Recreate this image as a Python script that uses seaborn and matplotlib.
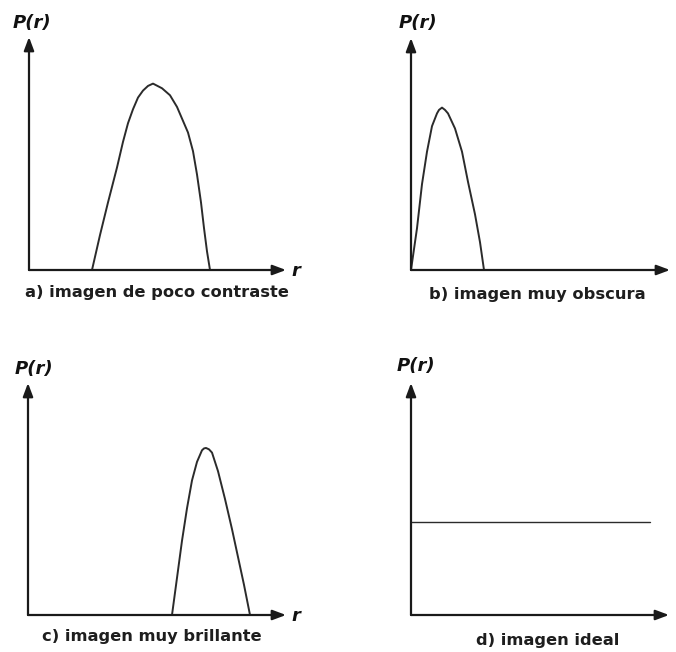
import matplotlib
matplotlib.use('Agg')
import matplotlib.pyplot as plt
import seaborn as sns

"""
Cuatro histogramas tipicos P(r): contraste, oscuro, brillante, ideal.
"""

# niveles de gris r (0-255) y altura relativa P(r)
r_a = [63, 71, 79, 88, 94, 99, 104, 109, 114, 119, 124,
       133, 141, 148, 154, 159, 164, 168, 172, 175, 178, 181]
p_a = [0, 0.15, 0.29, 0.44, 0.55, 0.63, 0.69, 0.74, 0.77, 0.79, 0.80,
       0.78, 0.75, 0.70, 0.64, 0.59, 0.51, 0.41, 0.29, 0.18, 0.08, 0]

r_b = [0, 6, 11, 16, 21, 26, 28, 31, 34, 37, 44, 51, 57, 64, 69, 73]
p_b = [0, 0.18, 0.37, 0.51, 0.62, 0.675, 0.69, 0.70, 0.69, 0.675, 0.61, 0.51, 0.38, 0.24, 0.12, 0]

r_c = [144, 149, 154, 159, 164, 169, 174, 176, 178, 181, 184, 190, 197, 204, 210, 216, 222]
p_c = [0, 0.16, 0.32, 0.46, 0.58, 0.66, 0.71, 0.718, 0.72, 0.714, 0.70, 0.62, 0.50, 0.37, 0.25, 0.13, 0]

r_d = [0, 239]
p_d = [0.40, 0.40]

captions = ['a) imagen de poco contraste', 'b) imagen muy obscura',
            'c) imagen muy brillante', 'd) imagen ideal']

W, H = 676, 652
sns.set_style('white')
plt.rcParams['font.family'] = ['DejaVu Sans']
fig = plt.figure(figsize=(W / 100, H / 100), dpi=100)

# pixel layout: origin x, origin y, arrow tip x, arrow tip y
panels = [
    (29, 270, 286, 37, r_a, p_a, 1.4, (32, 23), (157, 292), True),
    (411, 270, 670, 38, r_b, p_b, 1.4, (418, 23), (537, 294), False),
    (28, 615, 286, 383, r_c, p_c, 1.4, (34, 369), (152, 637), True),
    (411, 615, 669, 383, r_d, p_d, 1.0, (416, 366), (548, 641), False),
]

for x0, y0, x1, y1, r, p, lw, ppos, cpos, show_r in panels:
    ax = fig.add_axes([x0 / W, 1 - y0 / H, (x1 - x0) / W, (y0 - y1) / H])
    sns.lineplot(x=r, y=p, ax=ax, color='#2b2b2b', linewidth=lw, sort=False)
    ax.set_xlim(0, x1 - x0)
    ax.set_ylim(0, 1)
    ax.axis('off')
    arrow = dict(arrowstyle='-|>,head_length=0.8,head_width=0.3', color='#1a1a1a',
                 lw=1.6, shrinkA=0, shrinkB=0, mutation_scale=10)
    ax.annotate('', xy=(1, 0), xytext=(0, 0), xycoords='axes fraction', arrowprops=arrow)
    ax.annotate('', xy=(0, 1), xytext=(0, 0), xycoords='axes fraction', arrowprops=arrow)

    fig.text(ppos[0] / W, 1 - ppos[1] / H, 'P(r)', ha='center', va='center',
             fontsize=13, fontweight='bold', fontstyle='italic', color='#111111')
    if show_r:
        fig.text((x1 + 10) / W, 1 - (y0 + 1) / H, 'r', ha='center', va='center',
                 fontsize=13, fontweight='bold', fontstyle='italic', color='#111111')

for (x0, y0, x1, y1, r, p, lw, ppos, cpos, show_r), cap in zip(panels, captions):
    fig.text(cpos[0] / W, 1 - cpos[1] / H, cap, ha='center', va='center',
             fontsize=11.7, fontweight='bold', color='#1e1e1e')

plt.savefig('out.png', dpi=100)
